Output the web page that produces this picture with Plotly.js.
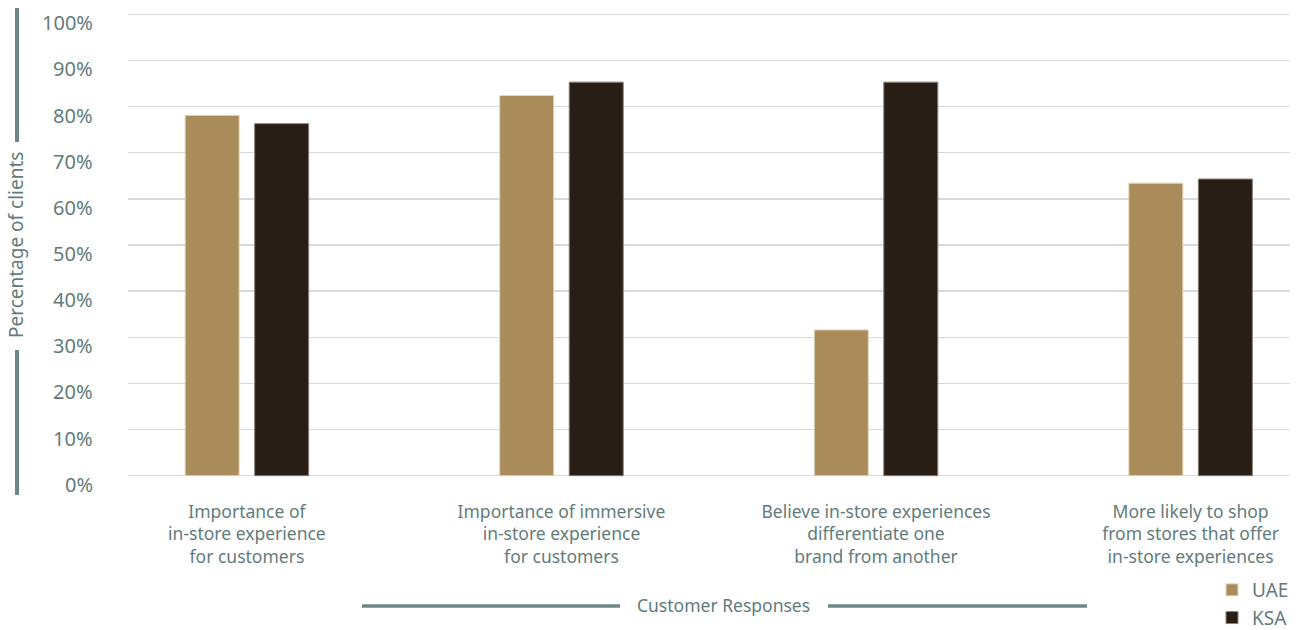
<!DOCTYPE html>
<html>
<head>
<meta charset="utf-8">
<script src="https://cdn.plot.ly/plotly-3.0.1.min.js"></script>
<style>
  html, body { margin: 0; padding: 0; background: #ffffff; overflow: hidden; }
  #chart { width: 1296px; height: 630px; }
</style>
</head>
<body>
<div id="chart"></div>
<script>
const categories = [
  "Importance of<br>in-store experience<br>for customers",
  "Importance of immersive<br>in-store experience<br>for customers",
  "Believe in-store experiences<br>differentiate one<br>brand from another",
  "More likely to shop<br>from stores that offer<br>in-store experiences"
];
const uaeValues = [78.1, 82.4, 31.6, 63.4];
const ksaValues = [76.3, 85.3, 85.3, 64.3];
const seriesNames = ["UAE", "KSA"];
const yTickVals = [0, 10, 20, 30, 40, 50, 60, 70, 80, 90, 100];
const yTickText = ["0%", "10%", "20%", "30%", "40%", "50%", "60%", "70%", "80%", "90%", "100%"];
const yAxisTitle = "Percentage of clients";
const xAxisTitle = "Customer Responses";

const textColor = "#627c7c";
const lineColor = "#6d8787";
const fontFamily = "'Noto Sans', 'Open Sans', sans-serif";

const traces = [
  {
    type: "bar", name: seriesNames[0], x: categories, y: uaeValues,
    marker: { color: "#a98c59", line: { color: "#e2d6bf", width: 1 } },
    hoverinfo: "skip"
  },
  {
    type: "bar", name: seriesNames[1], x: categories, y: ksaValues,
    marker: { color: "#281e15", line: { color: "#8a8178", width: 1 } },
    hoverinfo: "skip"
  }
];

const W = 1296, H = 630;
const L = 128, R = 1290, T = 12, B = 478;
const pw = R - L, ph = B - T;
const px = x => (x - L) / pw;
const py = y => (B - y) / ph;

const tickAnnotations = yTickVals.map((v, i) => ({
  text: yTickText[i], xref: "paper", yref: "y",
  x: 0, y: v, xanchor: "right", yanchor: "middle",
  xshift: -33, yshift: -8.5, showarrow: false,
  font: { size: 20, color: textColor, family: fontFamily }
}));

const layout = {
  width: W, height: H,
  margin: { l: L, r: W - R, t: T, b: H - B, pad: 0, autoexpand: false },
  paper_bgcolor: "#ffffff",
  plot_bgcolor: "#ffffff",
  font: { family: fontFamily, color: textColor },
  barmode: "group",
  bargap: 0.558,
  bargroupgap: 0.223,
  xaxis: {
    type: "category",
    range: [-0.378, 3.316],
    showgrid: false,
    showline: false,
    zeroline: false,
    ticks: "",
    tickfont: { size: 17.5, color: textColor, family: fontFamily },
    ticklabelstandoff: 21,
    automargin: false
  },
  yaxis: {
    range: [-0.5, 100.5],
    tickvals: yTickVals,
    ticktext: yTickText,
    showticklabels: false,
    showgrid: true,
    gridcolor: "#d9d9d9",
    gridwidth: 1.3,
    zeroline: false,
    showline: false,
    ticks: "",
    automargin: false
  },
  showlegend: true,
  legend: {
    x: px(1212), y: py(571), xanchor: "left", yanchor: "top",
    orientation: "v",
    font: { size: 19, color: textColor, family: fontFamily },
    bgcolor: "rgba(0,0,0,0)",
    tracegroupgap: 4,
    itemwidth: 30
  },
  annotations: tickAnnotations.concat([
    {
      text: xAxisTitle, xref: "paper", yref: "paper",
      x: px(723), y: py(605), xanchor: "center", yanchor: "middle",
      showarrow: false, font: { size: 17.5, color: textColor, family: fontFamily }
    },
    {
      text: yAxisTitle, xref: "paper", yref: "paper",
      x: px(16), y: py(245), xanchor: "center", yanchor: "middle",
      textangle: -90, showarrow: false,
      font: { size: 19, color: textColor, family: fontFamily }
    }
  ]),
  shapes: [
    { type: "line", xref: "paper", yref: "paper", x0: px(17), x1: px(17), y0: py(8), y1: py(142), line: { color: lineColor, width: 4 } },
    { type: "line", xref: "paper", yref: "paper", x0: px(17), x1: px(17), y0: py(350), y1: py(495), line: { color: lineColor, width: 4 } },
    { type: "line", xref: "paper", yref: "paper", x0: px(362), x1: px(620), y0: py(606), y1: py(606), line: { color: lineColor, width: 3.5 } },
    { type: "line", xref: "paper", yref: "paper", x0: px(828), x1: px(1087), y0: py(606), y1: py(606), line: { color: lineColor, width: 3.5 } }
  ]
};

Plotly.newPlot("chart", traces, layout, { displayModeBar: false, staticPlot: true });
</script>
</body>
</html>
